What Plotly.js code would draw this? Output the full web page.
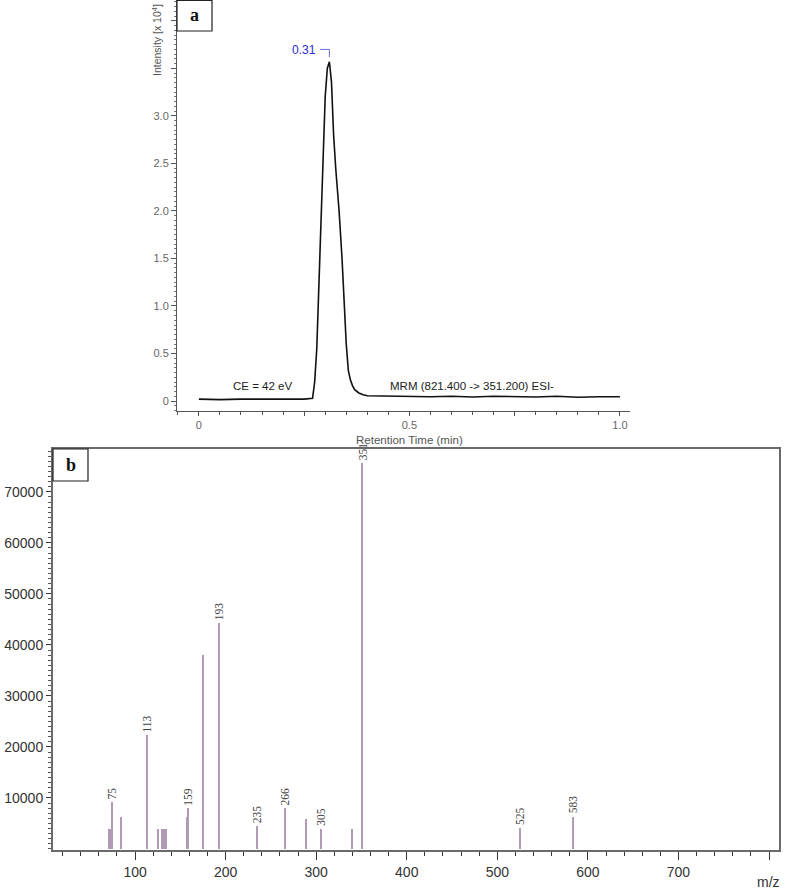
<!DOCTYPE html>
<html>
<head>
<meta charset="utf-8">
<script src="https://cdn.plot.ly/plotly-3.0.1.min.js"></script>
<style>
  html, body { margin: 0; padding: 0; background: #fff; }
  #chart { width: 787px; height: 891px; }
</style>
</head>
<body>
<div id="chart"></div>
<script>
// ---- panel a: MRM chromatogram (intensity in x10^4) ----
const rtMin = [0, 0.05, 0.10, 0.15, 0.20, 0.25, 0.27, 0.275, 0.28, 0.285, 0.29, 0.295, 0.30, 0.305, 0.31,
    0.315, 0.318, 0.32, 0.325, 0.33, 0.333, 0.34, 0.345, 0.35, 0.355, 0.36, 0.365, 0.37, 0.38, 0.39, 0.40,
    0.45, 0.50, 0.55, 0.60, 0.65, 0.70, 0.75, 0.80, 0.85, 0.90, 0.95, 1.00];
const intensity = [0.02, 0.015, 0.02, 0.02, 0.015, 0.02, 0.03, 0.2, 0.55, 1.2, 1.85, 2.6, 3.2, 3.5, 3.57,
    3.35, 3.0, 2.8, 2.45, 2.2, 2.0, 1.5, 1.0, 0.6, 0.32, 0.22, 0.16, 0.12, 0.085, 0.065, 0.055,
    0.05, 0.05, 0.045, 0.05, 0.042, 0.05, 0.045, 0.042, 0.05, 0.04, 0.045, 0.045];
const rtTickVals = [0, 0.25, 0.5, 0.75, 1.0];
const rtTickText = ['0', ' ', '0.5', ' ', '1.0'];
const intTickVals = [0, 0.5, 1.0, 1.5, 2.0, 2.5, 3.0, 3.5, 4.0];
const intTickText = ['0', '0.5', '1.0', '1.5', '2.0', '2.5', '3.0', ' ', ' '];

// ---- panel b: product ion spectrum ----
const mzPeaks = [71, 72, 73, 74, 75, 85, 113, 125, 130, 132, 134, 157, 159, 175, 193, 235, 266, 289, 305, 339, 351, 525, 583];
const mzAbund = [4000, 4000, 4000, 4000, 9200, 6300, 22300, 4000, 4000, 4000, 4000, 6200, 8000, 38000, 44300, 4500, 8000, 5900, 3900, 4000, 75700, 4100, 6300];
const mzLabeled = [75, 113, 159, 193, 235, 266, 305, 351, 525, 583];
const mzTickVals = [100, 200, 300, 400, 500, 600, 700, 800];
const mzTickText = ['100', '200', '300', '400', '500', '600', '700', ' '];
const abTickVals = [10000, 20000, 30000, 40000, 50000, 60000, 70000];
const abTickText = ['10000', '20000', '30000', '40000', '50000', '60000', '70000'];

const W = 787, H = 891;
const px = x => x / W;
const py = y => 1 - y / H;

const sans = 'Liberation Sans, Arial, sans-serif';
const serif = 'Liberation Serif, Times New Roman, serif';

const traceA = {
    x: rtMin, y: intensity,
    type: 'scatter', mode: 'lines',
    line: { color: '#111', width: 1.6 },
    xaxis: 'x', yaxis: 'y',
    hoverinfo: 'skip'
};

const traceB = {
    x: mzPeaks, y: mzAbund,
    type: 'bar', width: 2.2,
    marker: { color: '#b09ab4', line: { width: 0 } },
    xaxis: 'x2', yaxis: 'y2',
    hoverinfo: 'skip'
};

// apex of the chromatogram, for the blue retention-time mark
const apexVal = Math.max(...intensity);
const apexRt = rtMin[intensity.indexOf(apexVal)];

const annotations = [
    {
        x: apexRt - 0.028, y: apexVal + 0.12, xref: 'x', yref: 'y',
        text: apexRt.toFixed(2), showarrow: false, xanchor: 'right', yanchor: 'middle',
        font: { family: sans, size: 12, color: '#2a2ad0' }
    },
    {
        x: 0.15, y: 0.16, xref: 'x', yref: 'y', text: 'CE = 42 eV', showarrow: false,
        xanchor: 'center', yanchor: 'middle',
        font: { family: sans, size: 11.5, color: '#222' }
    },
    {
        x: 0.648, y: 0.16, xref: 'x', yref: 'y', text: 'MRM (821.400 -> 351.200) ESI-', showarrow: false,
        xanchor: 'center', yanchor: 'middle',
        font: { family: sans, size: 11.5, color: '#222' }
    },
    {
        x: px(409), y: py(440), xref: 'paper', yref: 'paper', text: 'Retention Time (min)', showarrow: false,
        xanchor: 'center', yanchor: 'middle',
        font: { family: sans, size: 11.5, color: '#555' }
    },
    {
        x: px(156), y: py(40), xref: 'paper', yref: 'paper', textangle: -90,
        text: 'Intensity [x 10<sup>4</sup>]', showarrow: false,
        xanchor: 'center', yanchor: 'middle',
        font: { family: 'Liberation Sans Narrow, Arial Narrow, ' + sans, size: 10.5, color: '#555' }
    },
    {
        x: px(194.5), y: py(15.5), xref: 'paper', yref: 'paper', text: '<b>a</b>', showarrow: false,
        xanchor: 'center', yanchor: 'middle',
        font: { family: serif, size: 18, color: '#111' }
    },
    {
        x: px(70.5), y: py(465), xref: 'paper', yref: 'paper', text: '<b>b</b>', showarrow: false,
        xanchor: 'center', yanchor: 'middle',
        font: { family: serif, size: 18, color: '#111' }
    },
    {
        x: px(768), y: py(882), xref: 'paper', yref: 'paper', text: 'm/z', showarrow: false,
        xanchor: 'center', yanchor: 'middle',
        font: { family: sans, size: 14, color: '#333' }
    }
];

mzLabeled.forEach(m => {
    const i = mzPeaks.indexOf(m);
    annotations.push({
        x: m, y: mzAbund[i], xref: 'x2', yref: 'y2',
        text: String(m), textangle: -90, showarrow: false,
        xanchor: 'center', yanchor: 'bottom', yshift: 1,
        font: { family: serif, size: 11.5, color: '#444' }
    });
});

const shapes = [
    // box around "a"
    { type: 'rect', xref: 'paper', yref: 'paper', x0: px(177), x1: px(212), y0: py(31), y1: py(0.5),
      line: { color: '#222', width: 1.2 }, fillcolor: '#fff' },
    // box around "b"
    { type: 'rect', xref: 'paper', yref: 'paper', x0: px(53), x1: px(88), y0: py(481), y1: py(449),
      line: { color: '#222', width: 1.2 }, fillcolor: '#fff' },
    // bracket marking the apex
    { type: 'line', xref: 'x', yref: 'y', x0: apexRt - 0.022, x1: apexRt, y0: apexVal + 0.13, y1: apexVal + 0.13,
      line: { color: '#6a6ad8', width: 1 } },
    { type: 'line', xref: 'x', yref: 'y', x0: apexRt, x1: apexRt, y0: apexVal + 0.13, y1: apexVal + 0.05,
      line: { color: '#6a6ad8', width: 1 } }
];

const layout = {
    width: W, height: H,
    margin: { l: 0, r: 0, t: 0, b: 0 },
    paper_bgcolor: '#fff',
    plot_bgcolor: 'rgba(0,0,0,0)',
    showlegend: false,
    bargap: 0,
    xaxis: {
        domain: [px(177), px(630)], anchor: 'y',
        range: [-0.052, 1.024],
        tickmode: 'array', tickvals: rtTickVals, ticktext: rtTickText,
        ticks: 'outside', ticklen: 4, tickcolor: '#555',
        minor: { dtick: 0.05, tick0: 0, ticks: 'outside', ticklen: 2.5, tickcolor: '#555', showgrid: false },
        showline: true, linecolor: '#555', linewidth: 1,
        showgrid: false, zeroline: false,
        tickfont: { family: sans, size: 11, color: '#666' }
    },
    yaxis: {
        domain: [py(411), 1], anchor: 'x',
        range: [-0.105, 4.22],
        tickmode: 'array', tickvals: intTickVals, ticktext: intTickText,
        ticks: 'outside', ticklen: 5, tickcolor: '#555',
        minor: { dtick: 0.05, tick0: 0, ticks: 'outside', ticklen: 2.5, tickcolor: '#777', showgrid: false },
        showline: true, linecolor: '#555', linewidth: 1,
        showgrid: false, zeroline: false,
        tickfont: { family: sans, size: 11, color: '#666' }
    },
    xaxis2: {
        domain: [px(53), px(779)], anchor: 'y2',
        range: [9.4, 811],
        tickmode: 'array', tickvals: mzTickVals, ticktext: mzTickText,
        ticks: 'outside', ticklen: 8, tickcolor: '#333',
        minor: { dtick: 20, tick0: 0, ticks: 'outside', ticklen: 4, tickcolor: '#333', showgrid: false },
        showline: true, mirror: true, linecolor: '#6a6a6a', linewidth: 2,
        showgrid: false, zeroline: false,
        tickfont: { family: sans, size: 14, color: '#333' }
    },
    yaxis2: {
        domain: [py(850), py(449)], anchor: 'x2',
        range: [-200, 78400],
        tickmode: 'array', tickvals: abTickVals, ticktext: abTickText,
        ticks: 'outside', ticklen: 5, tickcolor: '#333',
        minor: { dtick: 1000, tick0: 0, ticks: 'outside', ticklen: 3, tickcolor: '#555', showgrid: false },
        showline: true, mirror: true, linecolor: '#6a6a6a', linewidth: 2,
        showgrid: false, zeroline: false,
        tickfont: { family: sans, size: 14, color: '#333' }
    },
    annotations: annotations,
    shapes: shapes
};

Plotly.newPlot('chart', [traceA, traceB], layout, { displayModeBar: false, staticPlot: true });
</script>
</body>
</html>
